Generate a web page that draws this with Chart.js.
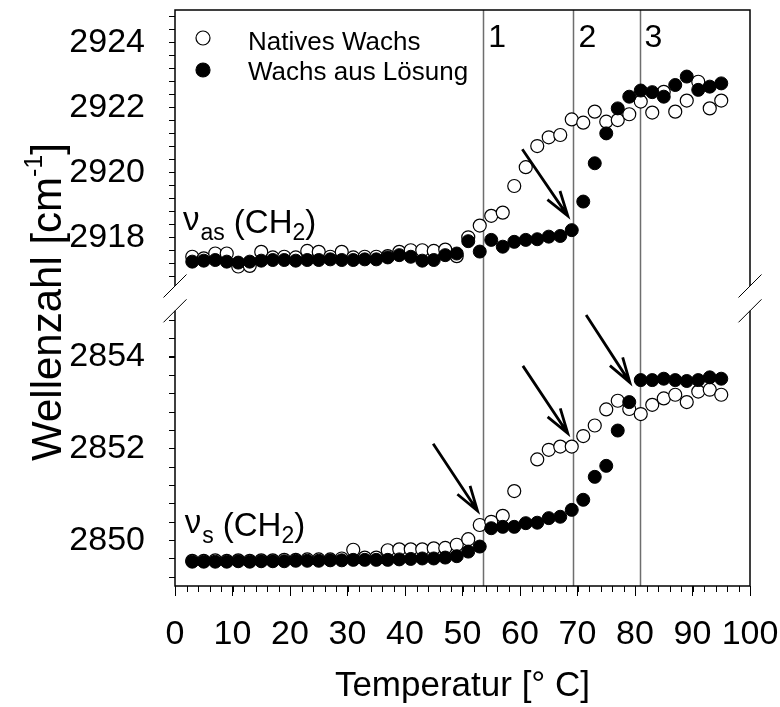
<!DOCTYPE html>
<html>
<head>
<meta charset="utf-8">
<script src="https://cdn.jsdelivr.net/npm/chart.js@4.4.1/dist/chart.umd.min.js"></script>
<style>
  html, body { margin: 0; padding: 0; background: #fff; }
  #wrap { width: 780px; height: 707px; }
</style>
</head>
<body>
<div id="wrap"><canvas id="chart" width="780" height="707"></canvas></div>
<script>
var FONT = '"Liberation Sans", Arial, sans-serif';

// temperatures [°C]
var temps = [3, 5, 7, 9, 11, 13, 15, 17, 19, 21, 23, 25, 27, 29, 31, 33, 35, 37, 39, 41, 43, 45, 47, 49,
             51, 53, 55, 57, 59, 61, 63, 65, 67, 69, 71, 73, 75, 77, 79, 81, 83, 85, 87, 89, 91, 93, 95];

// nu_as(CH2), upper panel
var nativesAs = [2917.40, 2917.35, 2917.50, 2917.50, 2917.10, 2917.12, 2917.55, 2917.38, 2917.40, 2917.38,
                 2917.58, 2917.55, 2917.40, 2917.55, 2917.38, 2917.40, 2917.40, 2917.42, 2917.55, 2917.60,
                 2917.60, 2917.58, 2917.62, 2917.42, 2918.00, 2918.36, 2918.66, 2918.76, 2919.58, 2920.16,
                 2920.81, 2921.08, 2921.15, 2921.63, 2921.53, 2921.87, 2921.56, 2921.61, 2921.79, 2922.18,
                 2921.84, 2922.48, 2921.87, 2922.21, 2922.79, 2921.97, 2922.21];
var loesungAs = [2917.25, 2917.28, 2917.30, 2917.25, 2917.22, 2917.25, 2917.28, 2917.30, 2917.30, 2917.28,
                 2917.30, 2917.30, 2917.32, 2917.30, 2917.30, 2917.32, 2917.32, 2917.38, 2917.45, 2917.40,
                 2917.28, 2917.30, 2917.45, 2917.50, 2917.88, 2917.56, 2917.92, 2917.71, 2917.86, 2917.92,
                 2917.94, 2918.02, 2918.04, 2918.22, 2919.10, 2920.28, 2921.20, 2921.97, 2922.33, 2922.52,
                 2922.47, 2922.33, 2922.69, 2922.95, 2922.54, 2922.64, 2922.74];

// nu_s(CH2), lower panel
var nativesS = [2849.55, 2849.55, 2849.56, 2849.55, 2849.56, 2849.55, 2849.56, 2849.56, 2849.57, 2849.57,
                2849.58, 2849.58, 2849.58, 2849.60, 2849.79, 2849.62, 2849.62, 2849.78, 2849.80, 2849.80,
                2849.80, 2849.82, 2849.83, 2849.90, 2850.02, 2850.33, 2850.40, 2850.53, 2851.07, null,
                2851.76, 2851.97, 2852.04, 2852.04, 2852.27, 2852.50, 2852.85, 2853.04, 2852.86, 2852.75,
                2852.95, 2853.09, 2853.17, 2853.01, 2853.24, 2853.28, 2853.17];
var loesungS = [2849.53, 2849.53, 2849.53, 2849.53, 2849.54, 2849.53, 2849.54, 2849.54, 2849.54, 2849.55,
                2849.55, 2849.55, 2849.56, 2849.56, 2849.57, 2849.57, 2849.57, 2849.57, 2849.58, 2849.59,
                2849.60, 2849.60, 2849.62, 2849.65, 2849.75, 2849.86, 2850.26, 2850.29, 2850.29, 2850.37,
                2850.38, 2850.48, 2850.51, 2850.66, 2850.88, 2851.38, 2851.62, 2852.39, 2853.01, 2853.49,
                2853.49, 2853.52, 2853.49, 2853.47, 2853.49, 2853.55, 2853.52];

var xTicks = [0, 10, 20, 30, 40, 50, 60, 70, 80, 90, 100];
var yTicksAs = [2918, 2920, 2922, 2924];
var yTicksS = [2850, 2852, 2854];

// phase transitions
var phaseX = [53.6, 69.3, 80.8];
var phaseLabels = ['1', '2', '3'];

// arrows: [scale, x0, y0, x1, y1]
var arrows = [
    ['yAs', 60.4, 2920.71, 68.3, 2918.66],
    ['yS', 44.9, 2852.10, 52.6, 2850.64],
    ['yS', 60.5, 2853.80, 68.3, 2852.33],
    ['yS', 71.5, 2854.91, 79.1, 2853.44]
];

function pts(arr) {
    return temps.map(function(t, i) { return {x: t, y: arr[i]}; });
}

function drawArrow(ctx, x0, y0, x1, y1) {
    var a = Math.atan2(y1 - y0, x1 - x0), len = 26, spread = 17 * Math.PI / 180;
    ctx.beginPath();
    ctx.moveTo(x0, y0);
    ctx.lineTo(x1, y1);
    ctx.moveTo(x1 - len * Math.cos(a - spread), y1 - len * Math.sin(a - spread));
    ctx.lineTo(x1, y1);
    ctx.lineTo(x1 - len * Math.cos(a + spread), y1 - len * Math.sin(a + spread));
    ctx.stroke();
}

// nu label with subscripts
function drawNu(ctx, px, py, sub) {
    var big = '33px ' + FONT, small = '23px ' + FONT;
    ctx.textAlign = 'left';
    ctx.textBaseline = 'alphabetic';
    ctx.font = big;
    ctx.fillText('\u03bd', px, py - 3);
    var x = px + ctx.measureText('\u03bd').width + 1;
    ctx.font = small;
    ctx.fillText(sub, x, py + 7);
    x += ctx.measureText(sub).width + 9;
    ctx.font = big;
    ctx.fillText('(CH', x, py);
    x += ctx.measureText('(CH').width;
    ctx.font = small;
    ctx.fillText('2', x, py + 7);
    x += ctx.measureText('2').width;
    ctx.font = big;
    ctx.fillText(')', x, py);
}

var decor = {
    id: 'decor',
    beforeDatasetsDraw: function(chart) {
        var ctx = chart.ctx, area = chart.chartArea, xs = chart.scales.x;
        ctx.save();
        ctx.strokeStyle = '#6e6e6e';
        ctx.lineWidth = 1.5;
        phaseX.forEach(function(v) {
            var px = Math.round(xs.getPixelForValue(v)) + 0.5;
            ctx.beginPath();
            ctx.moveTo(px, area.top);
            ctx.lineTo(px, area.bottom);
            ctx.stroke();
        });
        ctx.restore();
    },
    afterDatasetsDraw: function(chart) {
        var ctx = chart.ctx, area = chart.chartArea;
        var xs = chart.scales.x, ya = chart.scales.yAs, ysS = chart.scales.yS;
        var L = area.left, R = area.right;
        var breakTop = ya.getPixelForValue(2916.5), breakBot = ysS.getPixelForValue(2855);
        ctx.save();

        // frame
        ctx.strokeStyle = '#000';
        ctx.lineWidth = 1.5;
        ctx.beginPath();
        ctx.moveTo(L, breakTop); ctx.lineTo(L, area.top); ctx.lineTo(R, area.top); ctx.lineTo(R, breakTop);
        ctx.moveTo(L, breakBot); ctx.lineTo(L, area.bottom); ctx.lineTo(R, area.bottom); ctx.lineTo(R, breakBot);
        ctx.stroke();

        // break marks
        ctx.lineWidth = 1;
        [L, R].forEach(function(bx) {
            [breakTop, breakBot].forEach(function(by) {
                ctx.beginPath();
                ctx.moveTo(bx - 11.5, by + 11.5);
                ctx.lineTo(bx + 11.5, by - 11.5);
                ctx.stroke();
            });
        });

        // minor ticks
        ctx.lineWidth = 1;
        ctx.beginPath();
        var v, p;
        for (v = 2916.8; v < 2925; v += 0.4) {
            p = Math.round(ya.getPixelForValue(v)) + 0.5;
            ctx.moveTo(L, p); ctx.lineTo(L - 6, p);
        }
        for (v = 2849.2; v < 2855; v += 0.4) {
            p = Math.round(ysS.getPixelForValue(v)) + 0.5;
            ctx.moveTo(L, p); ctx.lineTo(L - 6, p);
        }
        for (v = 2; v < 100; v += 2) {
            p = Math.round(xs.getPixelForValue(v)) + 0.5;
            ctx.moveTo(p, area.bottom); ctx.lineTo(p, area.bottom + 6);
        }
        ctx.stroke();

        // phase numbers
        ctx.fillStyle = '#000';
        ctx.font = '32px ' + FONT;
        ctx.textAlign = 'left';
        ctx.textBaseline = 'alphabetic';
        phaseX.forEach(function(vx, i) {
            ctx.fillText(phaseLabels[i], xs.getPixelForValue(vx) + 5, area.top + 37);
        });

        // arrows
        ctx.strokeStyle = '#000';
        ctx.lineWidth = 2.8;
        ctx.lineCap = 'butt';
        arrows.forEach(function(a) {
            var sc = chart.scales[a[0]];
            drawArrow(ctx, xs.getPixelForValue(a[1]), sc.getPixelForValue(a[2]),
                      xs.getPixelForValue(a[3]), sc.getPixelForValue(a[4]));
        });

        // band labels
        drawNu(ctx, xs.getPixelForValue(1.4), ya.getPixelForValue(2918.13), 'as');
        drawNu(ctx, xs.getPixelForValue(1.7), ysS.getPixelForValue(2850.08), 's');

        // legend
        var lx = L + 28;
        ctx.lineWidth = 1.2;
        ctx.beginPath();
        ctx.arc(lx, area.top + 28, 7, 0, 2 * Math.PI);
        ctx.fillStyle = '#fff'; ctx.fill(); ctx.stroke();
        ctx.beginPath();
        ctx.arc(lx, area.top + 60, 7, 0, 2 * Math.PI);
        ctx.fillStyle = '#000'; ctx.fill(); ctx.stroke();
        ctx.font = '26px ' + FONT;
        ctx.fillText('Natives Wachs', L + 73, area.top + 40);
        ctx.fillText('Wachs aus Lösung', L + 73, area.top + 70);

        // y title with superscript
        ctx.translate(61, 302);
        ctx.rotate(-Math.PI / 2);
        var big = '42px ' + FONT, small = '25px ' + FONT;
        ctx.font = big;
        var w1 = ctx.measureText('Wellenzahl [cm').width, w3 = ctx.measureText(']').width;
        ctx.font = small;
        var w2 = ctx.measureText('-1').width;
        var tx = -(w1 + w2 + w3) / 2;
        ctx.font = big; ctx.fillText('Wellenzahl [cm', tx, 0);
        ctx.font = small; ctx.fillText('-1', tx + w1, -19);
        ctx.font = big; ctx.fillText(']', tx + w1 + w2, 0);
        ctx.restore();
    }
};

function yAxis(min, max, ticks, weight) {
    return {
        type: 'linear',
        position: 'left',
        stack: 'wn',
        stackWeight: 1,
        weight: weight,
        min: min,
        max: max,
        border: { display: false },
        grid: { drawOnChartArea: false, drawTicks: true, tickLength: 6, color: '#000', lineWidth: 1 },
        ticks: { color: '#000', font: { family: FONT, size: 34 }, padding: 24,
                 callback: function(val) { return String(val); } },
        afterBuildTicks: function(s) { s.ticks = ticks.map(function(t) { return {value: t}; }); },
        afterFit: function(s) { s.width = 175; s.paddingTop = 0; s.paddingBottom = 0; }
    };
}

new Chart(document.getElementById('chart'), {
    type: 'scatter',
    data: {
        datasets: [
            { label: 'Wachs aus Lösung', data: pts(loesungAs), yAxisID: 'yAs', order: 0,
              backgroundColor: '#000', borderColor: '#000', borderWidth: 1, pointRadius: 6.5 },
            { label: 'Natives Wachs', data: pts(nativesAs), yAxisID: 'yAs', order: 1,
              backgroundColor: '#fff', borderColor: '#000', borderWidth: 1.2, pointRadius: 6.5 },
            { label: 'Wachs aus Lösung', data: pts(loesungS), yAxisID: 'yS', order: 0,
              backgroundColor: '#000', borderColor: '#000', borderWidth: 1, pointRadius: 6.5 },
            { label: 'Natives Wachs', data: pts(nativesS), yAxisID: 'yS', order: 1,
              backgroundColor: '#fff', borderColor: '#000', borderWidth: 1.2, pointRadius: 6.5 }
        ]
    },
    options: {
        responsive: false,
        animation: false,
        events: [],
        layout: { padding: { top: 10, right: 30, left: 0, bottom: 0 } },
        plugins: { legend: { display: false }, tooltip: { enabled: false } },
        scales: {
            x: {
                type: 'linear',
                position: 'bottom',
                min: 0,
                max: 100,
                border: { display: false },
                grid: { drawOnChartArea: false, drawTicks: true, tickLength: 10, color: '#000', lineWidth: 1 },
                ticks: { color: '#000', font: { family: FONT, size: 34 }, padding: 18, maxRotation: 0, autoSkip: false },
                afterBuildTicks: function(s) { s.ticks = xTicks.map(function(t) { return {value: t}; }); },
                afterFit: function(s) { s.height = 121; s.paddingLeft = 0; s.paddingRight = 0; },
                title: { display: true, text: 'Temperatur [° C]', color: '#000',
                         font: { family: FONT, size: 35 }, padding: { top: 0, bottom: 0 } }
            },
            yAs: yAxis(2916.13, 2925, yTicksAs, 1),
            yS: yAxis(2849, 2855.28, yTicksS, 0)
        }
    },
    plugins: [decor]
});
</script>
</body>
</html>
